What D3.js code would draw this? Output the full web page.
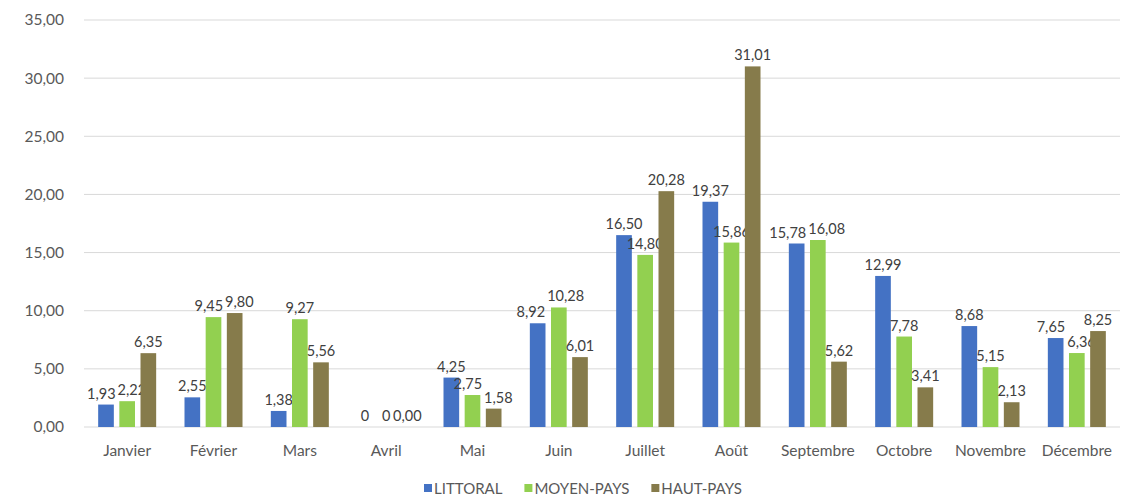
<!DOCTYPE html>
<html><head><meta charset="utf-8">
<script src="https://cdn.jsdelivr.net/npm/d3@7"></script>
<style>
body{margin:0;background:#fff;}
svg{display:block;font-family:Lato,"Open Sans",sans-serif;}
</style></head>
<body><svg id="c" width="1131" height="499"></svg>
<script>
const months = ["Janvier","Février","Mars","Avril","Mai","Juin","Juillet","Août","Septembre","Octobre","Novembre","Décembre"];
const seriesNames = ["LITTORAL","MOYEN-PAYS","HAUT-PAYS"];
const littoral = [1.93,2.55,1.38,0,4.25,8.92,16.50,19.37,15.78,12.99,8.68,7.65];
const moyenPays = [2.22,9.45,9.27,0,2.75,10.28,14.80,15.86,16.08,7.78,5.15,6.36];
const hautPays = [6.35,9.80,5.56,0.00,1.58,6.01,20.28,31.01,5.62,3.41,2.13,8.25];
const labelsLittoral = ["1,93","2,55","1,38","0","4,25","8,92","16,50","19,37","15,78","12,99","8,68","7,65"];
const labelsMoyen = ["2,22","9,45","9,27","0","2,75","10,28","14,80","15,86","16,08","7,78","5,15","6,36"];
const labelsHaut = ["6,35","9,80","5,56","0,00","1,58","6,01","20,28","31,01","5,62","3,41","2,13","8,25"];
const yTicks = [0,5,10,15,20,25,30,35];
const colors = ["#4472c4","#92d050","#867b4b"];

const svg = d3.select("#c");
const m = {l:84, r:11, t:20, b:72};
const W = 1131, H = 499;
const x = d3.scaleBand().domain(months).range([m.l, W-m.r]).paddingInner(0).paddingOuter(0);
const x1 = d3.scaleBand().domain(seriesNames).range([x.bandwidth()/2-29, x.bandwidth()/2+29]).paddingInner(0.26).paddingOuter(0);
const y = d3.scaleLinear().domain([0,35]).range([H-m.b, m.t]);

// grid
svg.append("g").selectAll("line").data(yTicks).join("line")
  .attr("x1", m.l).attr("x2", W-m.r)
  .attr("y1", d=>y(d)).attr("y2", d=>y(d))
  .attr("stroke", "#d9d9d9").attr("stroke-width", 1);

// y axis labels
const yAxis = d3.axisLeft(y).tickValues(yTicks).tickSize(0).tickPadding(0)
  .tickFormat(d=>d3.format(".2f")(d).replace(".",","));
const ya = svg.append("g").attr("transform",`translate(${m.l-20},0)`).call(yAxis);
ya.select(".domain").remove();
ya.selectAll("text").attr("fill","#595959").style("font-size","15.5px").style("font-family","Lato,'Open Sans',sans-serif");

// x axis labels
const xAxis = d3.axisBottom(x).tickSize(0).tickPadding(0);
const xa = svg.append("g").attr("transform",`translate(0,${H-m.b+18})`).call(xAxis);
xa.select(".domain").remove();
xa.selectAll("text").attr("fill","#595959").style("font-size","15.5px").style("font-family","Lato,'Open Sans',sans-serif");

const data = [littoral, moyenPays, hautPays];
const labels = [labelsLittoral, labelsMoyen, labelsHaut];

const labelNodes = months.map(()=>[]);
data.forEach((vals, si) => {
  const g = svg.append("g");
  g.selectAll("rect").data(vals).join("rect")
    .attr("x", (d,i)=>x(months[i]) + x1(seriesNames[si]))
    .attr("width", x1.bandwidth())
    .attr("y", d=>y(d))
    .attr("height", d=>y(0)-y(d))
    .attr("fill", colors[si]);
  g.selectAll("text").data(vals).join("text")
    .attr("x", (d,i)=>x(months[i]) + x1(seriesNames[si]) + x1.bandwidth()/2)
    .attr("y", d=>y(d)-6)
    .attr("text-anchor","middle")
    .attr("fill","#404040")
    .style("font-size","14.5px")
    .text((d,i)=>labels[si][i])
    .each(function(d,i){ labelNodes[i].push(this); });
});

// simple collision resolution: push overlapping labels of the same month apart horizontally
labelNodes.forEach(nodes=>{
  for (let iter=0; iter<4; iter++){
    for (let k=0;k<nodes.length-1;k++){
      const a = nodes[k], b = nodes[k+1];
      const ba = a.getBBox(), bb = b.getBBox();
      const hOv = ba.x + ba.width + 2 - bb.x;
      const vOv = Math.min(ba.y+ba.height, bb.y+bb.height) - Math.max(ba.y, bb.y);
      if (hOv > 0 && vOv > 0){
        a.setAttribute("x", +a.getAttribute("x") - hOv/2);
        b.setAttribute("x", +b.getAttribute("x") + hOv/2);
      }
    }
  }
});

// legend
const legG = svg.append("g").attr("transform",`translate(424,${H-5})`);
let lx = 0;
seriesNames.forEach((s,i)=>{
  legG.append("rect").attr("x",lx).attr("y",-10).attr("width",8).attr("height",8).attr("fill",colors[i]);
  const t = legG.append("text").attr("x",lx+10).attr("y",0).attr("fill","#595959").style("font-size","15px").text(s);
  lx += 10 + t.node().getComputedTextLength() + 22;
});
</script></body></html>
